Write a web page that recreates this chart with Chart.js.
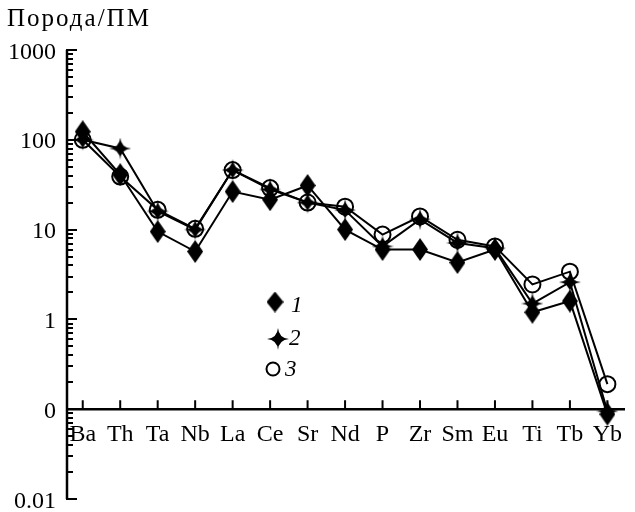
<!DOCTYPE html>
<html>
<head>
<meta charset="utf-8">
<script src="https://cdn.jsdelivr.net/npm/chart.js@4/dist/chart.umd.min.js"></script>
<style>
html,body{margin:0;padding:0;background:#fff;}
canvas{display:block;}
</style>
</head>
<body>
<canvas id="c" width="635" height="512"></canvas>
<script>
const categories = ['Ba','Th','Ta','Nb','La','Ce','Sr','Nd','P','Zr','Sm','Eu','Ti','Tb','Yb'];
const series1 = [123, 41, 9.5, 5.7, 26.5, 21.5, 31, 10, 6.0, 6.0, 4.3, 6.0, 1.2, 1.6, 0.088];
const series2 = [100, 80, 16, 10, 46, 28, 20, 16.5, 6.5, 13, 7.1, 6.2, 1.5, 2.6, 0.095];
const series3 = [100, 39, 16.6, 10.2, 46, 29, 20, 18, 8.8, 14, 7.7, 6.5, 2.45, 3.4, 0.19];
const seriesNames = ['1','2','3'];
const yTickValues = [1000, 100, 10, 1, 0.1, 0.01];
const yTickLabels = ['1000', '100', '10', '1', '0', '0.01'];
const yTitle = 'Порода/ПМ';

function makeDiamond(w, h) {
  const c = document.createElement('canvas');
  c.width = w; c.height = h;
  const g = c.getContext('2d');
  g.fillStyle = '#000';
  g.beginPath();
  g.moveTo(w/2, 0); g.lineTo(w, h/2); g.lineTo(w/2, h); g.lineTo(0, h/2);
  g.closePath(); g.fill();
  return c;
}
function makeStar(s) {
  const c = document.createElement('canvas');
  c.width = s; c.height = s;
  const g = c.getContext('2d');
  const m = s/2, r = s/2, q = s*0.1;
  g.fillStyle = '#000';
  g.beginPath();
  g.moveTo(m, m - r);
  g.quadraticCurveTo(m + q*0.4, m - q*0.4, m + r, m);
  g.quadraticCurveTo(m + q*0.4, m + q*0.4, m, m + r);
  g.quadraticCurveTo(m - q*0.4, m + q*0.4, m - r, m);
  g.quadraticCurveTo(m - q*0.4, m - q*0.4, m, m - r);
  g.closePath(); g.fill();
  return c;
}
const diamondImg = makeDiamond(16, 23);
const starImg = makeStar(22);
const legendDiamond = makeDiamond(17, 21);
const legendStar = makeStar(22);

const toPts = arr => arr.map((v, i) => ({x: i, y: v}));

const axesPlugin = {
  id: 'axesPlugin',
  beforeDatasetsDraw(chart) {
    const ctx = chart.ctx;
    const xs = chart.scales.x, ys = chart.scales.y;
    const a = chart.chartArea;
    const x0 = a.left;
    const yAx = ys.getPixelForValue(0.1);
    ctx.save();
    ctx.strokeStyle = '#000';
    ctx.lineWidth = 2.5;
    ctx.beginPath();
    ctx.moveTo(x0, a.top); ctx.lineTo(x0, a.bottom);
    ctx.moveTo(x0, yAx); ctx.lineTo(a.right, yAx);
    ctx.stroke();
    // y ticks
    ctx.lineWidth = 2;
    ctx.beginPath();
    for (let e = -2; e <= 3; e++) {
      for (let m = 1; m <= 9; m++) {
        if (e === 3 && m > 1) break;
        const v = m * Math.pow(10, e);
        const py = Math.round(ys.getPixelForValue(v));
        const len = (m === 1) ? 10 : 6;
        ctx.moveTo(x0 - 1, py); ctx.lineTo(x0 + len, py);
      }
    }
    // x ticks
    categories.forEach((c, i) => {
      const px = xs.getPixelForValue(i);
      ctx.moveTo(px, yAx); ctx.lineTo(px, yAx - 9);
    });
    ctx.stroke();
    // y labels
    ctx.fillStyle = '#000';
    ctx.font = '24px "Liberation Serif"';
    ctx.textAlign = 'right';
    ctx.textBaseline = 'alphabetic';
    yTickValues.forEach((v, i) => {
      ctx.fillText(yTickLabels[i], 56, ys.getPixelForValue(v) + 8.5);
    });
    // x labels
    ctx.textAlign = 'center';
    categories.forEach((c, i) => {
      ctx.fillText(c, xs.getPixelForValue(i), yAx + 32);
    });
    // title
    ctx.textAlign = 'left';
    ctx.font = '25px "Liberation Serif"';
    ctx.letterSpacing = '2px';
    ctx.fillText(yTitle, 7, 26);
    ctx.letterSpacing = '0px';
    ctx.restore();
  },
  afterDraw(chart) {
    const ctx = chart.ctx;
    ctx.save();
    ctx.drawImage(legendDiamond, 275 - 8.5, 302 - 10.5);
    ctx.drawImage(legendStar, 278 - 11, 339 - 11);
    ctx.strokeStyle = '#000';
    ctx.lineWidth = 2;
    ctx.beginPath();
    ctx.arc(273, 369, 6.5, 0, Math.PI * 2);
    ctx.stroke();
    ctx.fillStyle = '#000';
    ctx.font = 'italic 23px "Liberation Serif"';
    ctx.textAlign = 'left';
    ctx.textBaseline = 'alphabetic';
    ctx.fillText(seriesNames[0], 291, 312);
    ctx.fillText(seriesNames[1], 289, 345);
    ctx.fillText(seriesNames[2], 285, 376);
    ctx.restore();
  }
};

const common = {
  borderColor: '#000',
  borderWidth: 2,
  showLine: true,
  fill: false,
  tension: 0,
  clip: false
};

new Chart(document.getElementById('c'), {
  type: 'scatter',
  data: {
    datasets: [
      Object.assign({label: seriesNames[0], data: toPts(series1), pointStyle: diamondImg, pointBackgroundColor: '#000', pointBorderColor: '#000'}, common),
      Object.assign({label: seriesNames[1], data: toPts(series2), pointStyle: starImg, pointBackgroundColor: '#000', pointBorderColor: '#000'}, common),
      Object.assign({label: seriesNames[2], data: toPts(series3), pointStyle: 'circle', pointRadius: 8, pointBorderWidth: 2, pointBackgroundColor: 'rgba(0,0,0,0)', pointBorderColor: '#000'}, common)
    ]
  },
  options: {
    responsive: false,
    animation: false,
    devicePixelRatio: 1,
    layout: {padding: {left: 67, right: 0, top: 50, bottom: 13}},
    plugins: {legend: {display: false}, tooltip: {enabled: false}},
    scales: {
      x: {type: 'linear', min: -0.42, max: 14.47, display: false},
      y: {type: 'logarithmic', min: 0.01, max: 1000, display: false}
    }
  },
  plugins: [axesPlugin]
});
</script>
</body>
</html>
